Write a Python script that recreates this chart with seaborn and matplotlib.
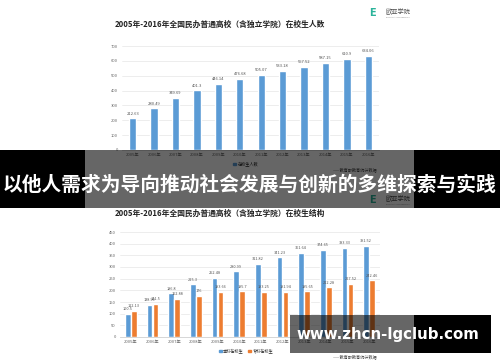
import matplotlib
matplotlib.use("Agg")
import matplotlib.pyplot as plt
from matplotlib.patches import Rectangle, Patch
import seaborn as sns
import pandas as pd

# ---- data -------------------------------------------------------------
years = ["2005年", "2006年", "2007年", "2008年", "2009年", "2010年",
         "2011年", "2012年", "2013年", "2014年", "2015年", "2016年"]
total_students = [212.63, 280.49, 349.69, 401.3, 446.14, 476.68,
                  505.07, 533.18, 557.52, 587.15, 610.9, 634.06]
undergrad = [100.5, 138.99, 186.8, 225.3, 252.48, 280.99,
             311.82, 341.23, 361.64, 374.65, 383.33, 391.52]
junior_college = [112.13, 141.5, 162.88, 176, 193.66, 195.7,
                  193.25, 191.94, 195.65, 212.28, 227.52, 242.46]
series_names = ["本科在校生", "专科在校生"]

title_top = "2005年-2016年全国民办普通高校（含独立学院）在校生人数"
title_bottom = "2005年-2016年全国民办普通高校（含独立学院）在校生结构"
source_text = "——教育部教育统计数据"
banner_text = "以他人需求为导向推动社会发展与创新的多维探索与实践"
site_text = "www.zhcn-lgclub.com"

BLUE = "#5b9bd5"
ORANGE = "#ed7d31"

sns.set_theme(style="white")
plt.rcParams["font.family"] = ["Noto Sans CJK SC", "DejaVu Sans"]

W, H = 500, 362
fig = plt.figure(figsize=(W / 100, H / 100), dpi=100)
fig.patch.set_facecolor("white")


def fx(x):
    return x / W


def fy(y):
    return 1 - y / H


def axes_px(x0, y0, x1, y1):
    return fig.add_axes([fx(x0), fy(y1), fx(x1) - fx(x0), (y1 - y0) / H])


def style_axes(ax, ymax, step):
    ax.set_ylim(0, ymax)
    ax.set_xlim(-0.5, len(years) - 0.5)
    ax.set_yticks(range(0, ymax + 1, step))
    ax.yaxis.grid(True, color="#e6e6e6", linewidth=0.5)
    ax.set_axisbelow(True)
    for s in ("top", "right", "left"):
        ax.spines[s].set_visible(False)
    ax.spines["bottom"].set_color("#d0d0d0")
    ax.spines["bottom"].set_linewidth(0.6)
    ax.tick_params(axis="both", length=0, labelsize=3, colors="#666666")
    ax.tick_params(axis="x", pad=2)
    ax.tick_params(axis="y", pad=3)
    ax.set_xlabel("")
    ax.set_ylabel("")
    ax.patch.set_alpha(0)


def fmt(v):
    return f"{v:g}"


# ---- top chart: total enrolment ---------------------------------------
ax1 = axes_px(122, 46, 379, 150)
sns.barplot(x=years, y=total_students, color=BLUE, width=0.34,
            saturation=1, ax=ax1)
style_axes(ax1, 700, 100)
ax1.bar_label(ax1.containers[0], labels=[fmt(v) for v in total_students],
              fontsize=3, color="#555555", padding=2)

fig.text(fx(220), fy(24), title_top, fontsize=5.6, fontweight="bold",
         ha="center", va="center", color="#222222")
fig.legend(handles=[Patch(color=BLUE, label="在校生人数")],
           loc="center", bbox_to_anchor=(fx(246), fy(164)), frameon=False,
           fontsize=3, handlelength=0.7, handleheight=0.7, handletextpad=0.4)
fig.text(fx(355), fy(170), source_text, fontsize=3, ha="center",
         va="center", color="#444444")

# ---- bottom chart: undergraduate vs junior college --------------------
df = pd.DataFrame({
    "year": years * 2,
    "value": undergrad + junior_college,
    "type": [series_names[0]] * len(years) + [series_names[1]] * len(years),
})
ax2 = axes_px(120, 232, 380, 337)
sns.barplot(data=df, x="year", y="value", hue="type",
            palette=[BLUE, ORANGE], width=0.56, gap=0.1, saturation=1,
            legend=False, ax=ax2)
style_axes(ax2, 450, 50)
for cont, vals in zip(ax2.containers, [undergrad, junior_college]):
    ax2.bar_label(cont, labels=[fmt(v) for v in vals], fontsize=2.8,
                  color="#555555", padding=2)

fig.text(fx(220), fy(213), title_bottom, fontsize=5.6, fontweight="bold",
         ha="center", va="center", color="#222222")
fig.legend(handles=[Patch(color=BLUE, label=series_names[0]),
                    Patch(color=ORANGE, label=series_names[1])],
           loc="center", bbox_to_anchor=(fx(246), fy(351)), ncol=2,
           frameon=False, fontsize=3, handlelength=0.7, handleheight=0.7,
           handletextpad=0.4, columnspacing=1.0)
fig.text(fx(355), fy(357), source_text, fontsize=3, ha="center",
         va="center", color="#444444")


# ---- logos ------------------------------------------------------------
def logo(x, y):
    fig.text(fx(x), fy(y), "E", fontsize=7, fontweight="bold",
             color="#2bb39a", ha="center", va="center", family="DejaVu Sans")
    fig.text(fx(x + 14), fy(y - 1.5), "欧亚学院", fontsize=4.5,
             color="#555555", ha="left", va="center")
    fig.text(fx(x + 14), fy(y + 4), "EURASIA UNIVERSITY", fontsize=1.6,
             color="#888888", ha="left", va="center", family="DejaVu Sans")


logo(372, 13)
logo(372, 200)

# ---- overlays: banner band and site box -------------------------------
CARD_L, CARD_R = 85, 414


def shade(x0, y0, x1, y1, alpha):
    fig.add_artist(Rectangle((fx(x0), fy(y1)), fx(x1) - fx(x0), (y1 - y0) / H,
                             transform=fig.transFigure, facecolor="black",
                             edgecolor="none", alpha=alpha, zorder=10))


# banner band
shade(0, 150, CARD_L, 208, 1.0)
shade(CARD_L, 150, CARD_R, 208, 0.6)
shade(CARD_R, 150, W, 208, 1.0)
fig.text(0.5, fy(185), banner_text, fontsize=14.2, fontweight="bold",
         color="white", ha="center", va="center", zorder=11,
         family=["Noto Sans CJK SC", "DejaVu Sans"])

# site box
shade(290, 315, CARD_R, 353, 0.6)
shade(CARD_R, 315, 491, 353, 1.0)
fig.text(fx(388), fy(334), site_text, fontsize=10.8, fontweight="bold",
         color="white", ha="center", va="center", zorder=11,
         family="DejaVu Sans")

fig.savefig("out.png", dpi=100)
